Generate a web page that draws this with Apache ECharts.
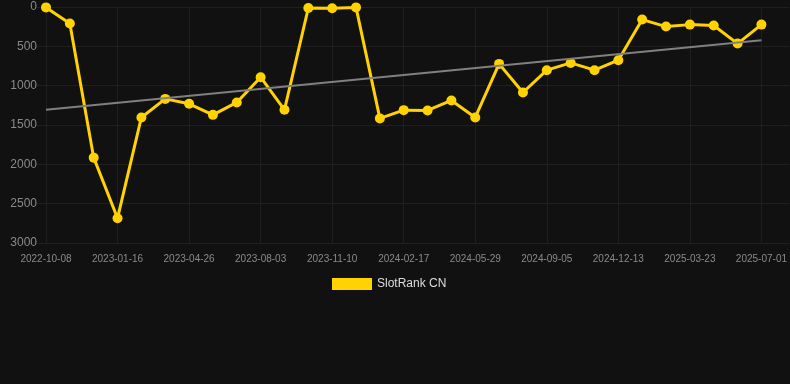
<!DOCTYPE html>
<html>
<head>
<meta charset="utf-8">
<script src="https://cdn.jsdelivr.net/npm/echarts@6/dist/echarts.min.js"></script>
<style>
html,body{margin:0;padding:0;background:#111111;}
#chart{width:790px;height:384px;}
</style>
</head>
<body>
<div id="chart"></div>
<script>
var dates = [
    '2022-10-08','2022-11-10','2022-12-13','2023-01-16','2023-02-18','2023-03-23',
    '2023-04-26','2023-05-29','2023-07-01','2023-08-03','2023-09-05','2023-10-08',
    '2023-11-10','2023-12-13','2024-01-15','2024-02-17','2024-03-21','2024-04-25',
    '2024-05-29','2024-07-01','2024-08-03','2024-09-05','2024-10-08','2024-11-10',
    '2024-12-13','2025-01-15','2025-02-17','2025-03-23','2025-04-25','2025-05-29',
    '2025-07-01'
];
var ranks = [
    5, 210, 1915, 2685, 1404, 1168, 1231, 1371, 1213, 892, 1307,
    13, 15, 5, 1416, 1311, 1315, 1188, 1404, 723, 1087, 803, 711,
    803, 676, 160, 249, 224, 236, 465, 224
];
var trendStart = 1307;
var trendEnd = 423;
var yTicks = [0, 500, 1000, 1500, 2000, 2500, 3000];

var gridColor = '#1f1f1f';
var myChart = echarts.init(document.getElementById('chart'));
option = {
    backgroundColor: '#111111',
    animation: false,
    grid: {
        left: 46,
        right: 28,
        top: 7,
        bottom: 141
    },
    legend: {
        data: [{name: 'SlotRank CN', icon: 'rect'}],
        top: 273,
        left: 327,
        itemWidth: 40,
        itemHeight: 12,
        textStyle: {color: '#dddddd', fontSize: 12}
    },
    xAxis: {
        type: 'category',
        data: dates,
        boundaryGap: false,
        axisLine: {show: false},
        axisTick: {
            show: true,
            interval: 2,
            length: 10,
            lineStyle: {color: gridColor}
        },
        axisLabel: {
            color: '#8a8a8a',
            fontSize: 10,
            interval: 2,
            margin: 11
        },
        splitLine: {
            show: true,
            interval: 2,
            lineStyle: {color: gridColor}
        }
    },
    yAxis: [{
        type: 'value',
        inverse: true,
        min: yTicks[0],
        max: yTicks[yTicks.length - 1],
        interval: 500,
        axisLine: {show: false},
        axisTick: {show: true, length: 9, lineStyle: {color: gridColor}},
        axisLabel: {
            color: '#8a8a8a',
            fontSize: 12,
            margin: 9,
            formatter: function (v) { return String(v); }
        },
        splitLine: {lineStyle: {color: gridColor}}
    }, {
        type: 'value',
        inverse: true,
        position: 'right',
        min: yTicks[0],
        max: yTicks[yTicks.length - 1],
        interval: 500,
        axisLine: {show: false},
        axisTick: {show: true, length: 28, lineStyle: {color: gridColor}},
        axisLabel: {show: false},
        splitLine: {show: false}
    }],
    series: [{
        name: 'SlotRank CN',
        type: 'line',
        data: ranks,
        color: '#ffd200',
        symbol: 'circle',
        symbolSize: 10,
        lineStyle: {width: 3, color: '#ffd200'},
        itemStyle: {color: '#ffd200'},
        markLine: {
            silent: true,
            symbol: ['none', 'none'],
            label: {show: false},
            lineStyle: {color: '#808080', width: 2, type: 'solid'},
            data: [[
                {coord: [dates[0], trendStart]},
                {coord: [dates[dates.length - 1], trendEnd]}
            ]]
        }
    }]
};
myChart.setOption(option);
</script>
</body>
</html>
